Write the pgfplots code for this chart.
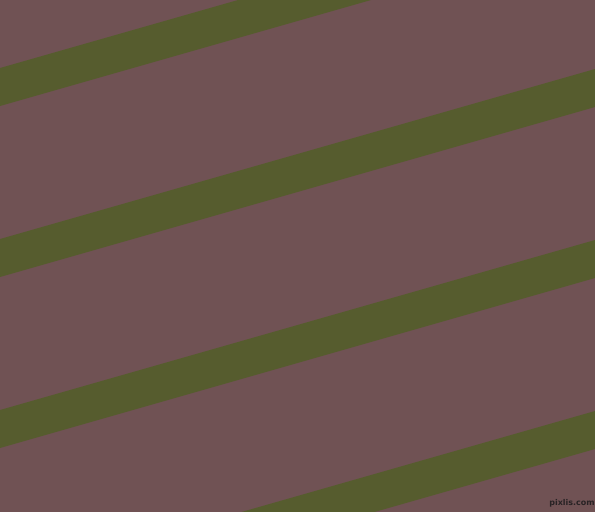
\documentclass[border=0pt]{standalone}
\usepackage{pgfplots}
\pgfplotsset{compat=1.18}
\usepackage{fontspec}
\setmainfont{DejaVu Sans}
\definecolor{bg}{RGB}{112,82,84}
\definecolor{stripe}{RGB}{86,92,46}
\definecolor{wm}{RGB}{40,34,36}
\begin{document}
\begin{tikzpicture}
\begin{axis}[
  width=595bp, height=512bp, scale only axis,
  xmin=0, xmax=595, ymin=0, ymax=512, y dir=reverse,
  hide axis,
  axis background/.style={fill=bg},
]
\addplot[draw=none, fill=stripe] coordinates {(0,68) (595,-102) (595,-64) (0,106)} -- cycle;
\addplot[draw=none, fill=stripe] coordinates {(0,239) (595,69) (595,107) (0,277)} -- cycle;
\addplot[draw=none, fill=stripe] coordinates {(0,410) (595,240) (595,278) (0,448)} -- cycle;
\addplot[draw=none, fill=stripe] coordinates {(0,581) (595,411) (595,449) (0,619)} -- cycle;
\node[text=wm, font=\fontsize{8}{8}\selectfont\bfseries, inner sep=0pt, anchor=center] at (axis cs:572,503.5) {pixlis.com};
\end{axis}
\end{tikzpicture}
\end{document}
